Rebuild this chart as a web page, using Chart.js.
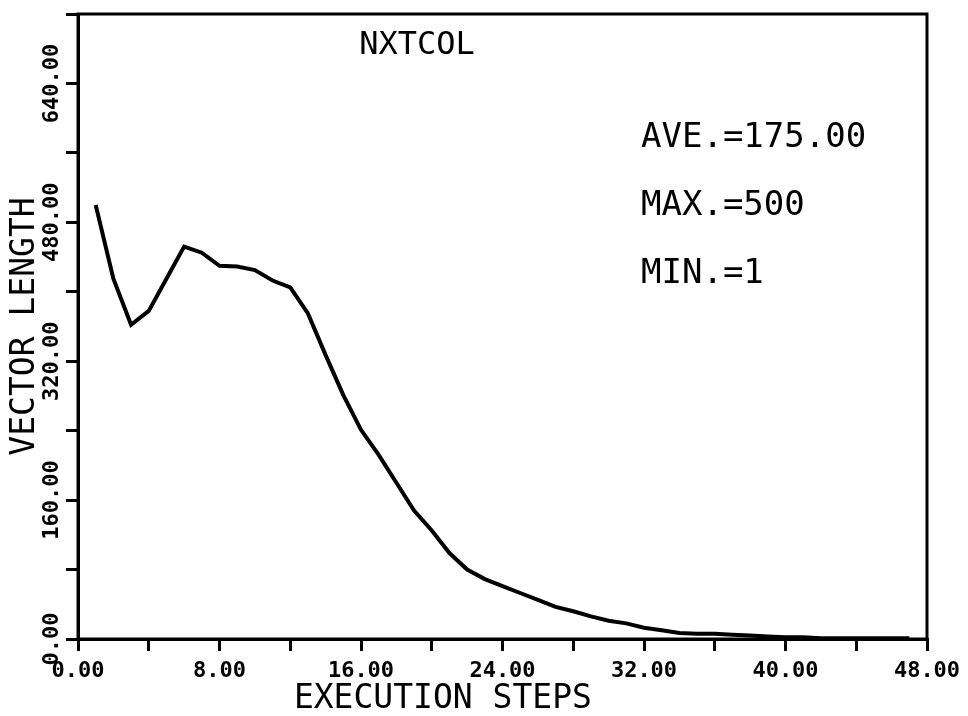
<!DOCTYPE html>
<html>
<head>
<meta charset="utf-8">
<script src="https://cdn.jsdelivr.net/npm/chart.js@4.4.1/dist/chart.umd.min.js"></script>
<style>
  html, body { margin: 0; padding: 0; background: #fff; }
  #wrap { width: 968px; height: 716px; }
</style>
</head>
<body>
<div id="wrap"><canvas id="vecChart" width="968" height="716"></canvas></div>
<script>
(function () {
    'use strict';

    // ─── Data ─────────────────────────────────────────────────────────────────
    const steps = [1, 2, 3, 4, 5, 6, 7, 8, 9, 10, 11, 12, 13, 14, 15, 16, 17, 18, 19, 20,
                   21, 22, 23, 24, 25, 26, 27, 28, 29, 30, 31, 32, 33, 34, 35, 36, 37, 38, 39, 40,
                   41, 42, 43, 44, 45, 46, 47];
    const vecLength = [500, 415, 362, 378, 415, 452, 445, 430, 429, 425, 413, 405, 375, 327, 281, 241, 212, 180, 148, 125,
                       99, 80, 69, 61, 53, 45, 37, 32, 26, 21, 18, 13, 10, 7, 6, 6, 5, 4, 3, 2,
                       2, 1, 1, 1, 1, 1, 1];

    const xTicks = [0, 8, 16, 24, 32, 40, 48];        // labelled x ticks
    const yTicks = [0, 160, 320, 480, 640];           // labelled y ticks
    const plotTitle = 'NXTCOL';
    const stats = ['AVE.=175.00', 'MAX.=500', 'MIN.=1'];

    const MONO = '"DejaVu Sans Mono", "Liberation Mono", monospace';

    // ─── Frame + annotation text ─────────────────────────────────────────────
    const framePlugin = {
        id: 'frame',
        afterDraw(chart) {
            const { ctx, chartArea: a } = chart;
            ctx.save();
            ctx.strokeStyle = '#000';
            ctx.lineWidth = 3;
            ctx.strokeRect(a.left, a.top, a.right - a.left, a.bottom - a.top);

            ctx.fillStyle = '#000';
            ctx.textBaseline = 'middle';
            ctx.font = '32px ' + MONO;
            ctx.textAlign = 'center';
            ctx.fillText(plotTitle, 417, 46);
            ctx.font = '34px ' + MONO;
            ctx.textAlign = 'left';
            const ys = [138, 206, 274];
            stats.forEach((s, i) => ctx.fillText(s, 641, ys[i]));
            ctx.restore();
        }
    };

    const tickFont = { family: MONO, size: 22, weight: 'bold' };
    const titleFont = { family: MONO, size: 33, lineHeight: 1 };

    new Chart(document.getElementById('vecChart'), {
        type: 'line',
        data: {
            labels: steps,
            datasets: [{
                data: steps.map((s, i) => ({ x: s, y: vecLength[i] })),
                borderColor: '#000',
                borderWidth: 4,
                pointRadius: 0,
                tension: 0,
                fill: false,
            }],
        },
        options: {
            responsive: false,
            animation: false,
            layout: { padding: { left: 0, right: 41, top: 14, bottom: 0 } },
            plugins: { legend: { display: false }, tooltip: { enabled: false } },
            scales: {
                x: {
                    type: 'linear',
                    min: 0, max: 48,
                    border: { color: '#000', width: 3 },
                    grid: { drawOnChartArea: false, color: '#000', lineWidth: 3, tickLength: 12 },
                    ticks: {
                        stepSize: 4,
                        color: '#000',
                        font: tickFont,
                        padding: 7,
                        maxRotation: 0,
                        autoSkip: false,
                        callback: v => xTicks.includes(v) ? v.toFixed(2) : '',
                    },
                    title: {
                        display: true,
                        text: 'EXECUTION STEPS      ',
                        color: '#000',
                        font: titleFont,
                        padding: { top: 0, bottom: 0 },
                    },
                    afterFit: s => { s.height = 77; },
                },
                y: {
                    min: 0, max: 720,
                    border: { color: '#000', width: 3 },
                    grid: { drawOnChartArea: false, color: '#000', lineWidth: 3, tickLength: 12 },
                    ticks: {
                        stepSize: 80,
                        color: '#000',
                        font: tickFont,
                        minRotation: 90,
                        maxRotation: 90,
                        crossAlign: 'center',
                        padding: -26,
                        autoSkip: false,
                        callback: v => yTicks.includes(v) ? v.toFixed(2) : '',
                    },
                    title: {
                        display: true,
                        text: 'VECTOR LENGTH',
                        color: '#000',
                        font: titleFont,
                        padding: { top: 9, bottom: 0 },
                    },
                    afterFit: s => { s.width = 78; },
                },
            },
        },
        plugins: [framePlugin],
    });
})();
</script>
</body>
</html>
